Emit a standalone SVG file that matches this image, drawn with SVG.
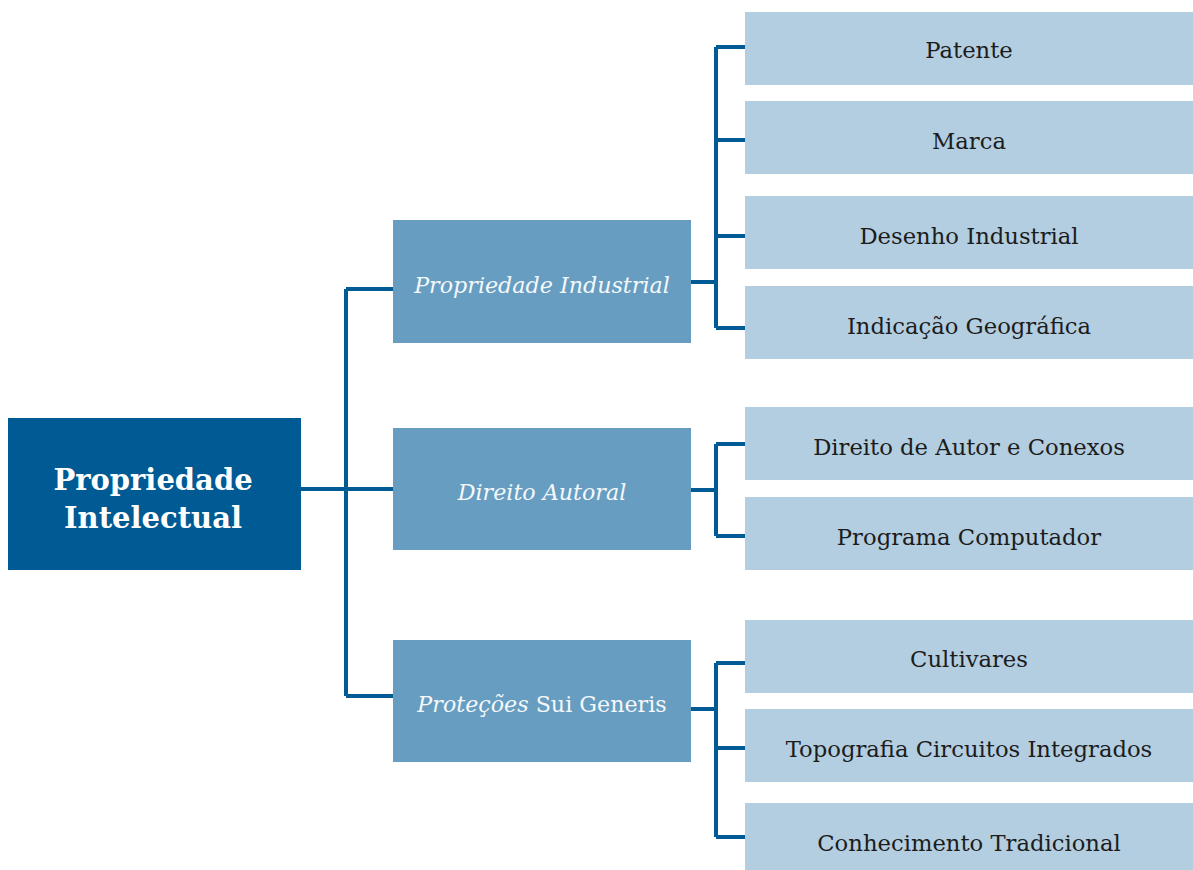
<svg xmlns="http://www.w3.org/2000/svg" width="1193" height="870" viewBox="0 0 1193 870">
<style>
.root{fill:#005a93}
.mid{fill:#679dc0}
.leaf{fill:#b3cee0}
.t{font-family:"DejaVu Serif","Liberation Serif",serif;text-anchor:middle}
.rt{fill:#ffffff;font-size:29px;font-weight:bold}
.mt{fill:#f4f8fb;font-size:22.2px;font-style:italic}
.lt{fill:#1c1c1c;font-size:22.7px}
.c{fill:none;stroke:#005a93;stroke-width:4;stroke-linejoin:miter}
</style>
<rect width="1193" height="870" fill="#ffffff"/>
<g id="connectors">
<path class="c" d="M301 489H393M346 289V696M346 289H393M346 696H393"/>
<path class="c" d="M691 282H716M716 47V328M716 47H745M716 140H745M716 236H745M716 328H745"/>
<path class="c" d="M691 490H716M716 444V536M716 444H745M716 536H745"/>
<path class="c" d="M691 709H716M716 663V837M716 663H745M716 748H745M716 837H745"/>
</g>
<g id="n-root"><rect class="root" x="8" y="418" width="293" height="152"/>
<text class="t rt" x="153" y="490">Propriedade</text><text class="t rt" x="153" y="528">Intelectual</text></g>
<g id="n-industrial"><rect class="mid" x="393" y="220" width="298" height="123"/><text class="t mt" x="542" y="293">Propriedade Industrial</text></g>
<g id="n-autoral"><rect class="mid" x="393" y="428" width="298" height="122"/><text class="t mt" x="542" y="500">Direito Autoral</text></g>
<g id="n-suigeneris"><rect class="mid" x="393" y="640" width="298" height="122"/><text class="t mt" x="542" y="712">Proteções <tspan font-style="normal">Sui Generis</tspan></text></g>
<g id="n-patente"><rect class="leaf" x="745" y="12" width="448" height="73"/><text class="t lt" x="969" y="58">Patente</text></g>
<g id="n-marca"><rect class="leaf" x="745" y="101" width="448" height="73"/><text class="t lt" x="969" y="149">Marca</text></g>
<g id="n-desenho"><rect class="leaf" x="745" y="196" width="448" height="73"/><text class="t lt" x="969" y="244">Desenho Industrial</text></g>
<g id="n-indicacao"><rect class="leaf" x="745" y="286" width="448" height="73"/><text class="t lt" x="969" y="334">Indicação Geográfica</text></g>
<g id="n-direitoautor"><rect class="leaf" x="745" y="407" width="448" height="73"/><text class="t lt" x="969" y="455">Direito de Autor e Conexos</text></g>
<g id="n-programa"><rect class="leaf" x="745" y="497" width="448" height="73"/><text class="t lt" x="969" y="545">Programa Computador</text></g>
<g id="n-cultivares"><rect class="leaf" x="745" y="620" width="448" height="73"/><text class="t lt" x="969" y="667">Cultivares</text></g>
<g id="n-topografia"><rect class="leaf" x="745" y="709" width="448" height="73"/><text class="t lt" x="969" y="757">Topografia Circuitos Integrados</text></g>
<g id="n-conhecimento"><rect class="leaf" x="745" y="803" width="448" height="67"/><text class="t lt" x="969" y="851">Conhecimento Tradicional</text></g>
</svg>
